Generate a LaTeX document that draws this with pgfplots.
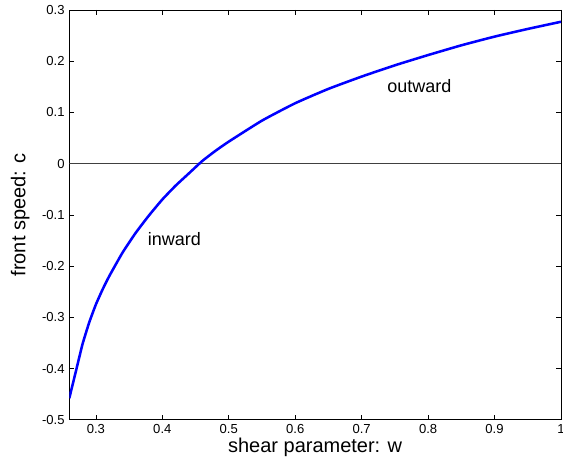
\documentclass[border=0pt]{standalone}
\usepackage{fontspec}
\setmainfont{Liberation Sans}
\usepackage{pgfplots}
\pgfplotsset{compat=1.18}
\begin{document}
\begin{tikzpicture}
\begin{axis}[
  scale only axis,
  width=369pt, height=307.5pt,
  xmin=0.26, xmax=1, ymin=-0.5, ymax=0.3,
  xtick={0.3,0.4,...,1.0}, ytick={-0.5,-0.4,...,0.3},
  tick align=inside, major tick length=3.5pt,
  tick style={black, line width=0.5pt},
  axis line style={black, line width=0.6pt},
  xticklabel style={font=\fontsize{9.8}{11}\selectfont},
  yticklabel style={font=\fontsize{9.8}{11}\selectfont},
  /pgf/number format/assume math mode=true,
  /pgf/number format/fixed,
  /pgf/number format/precision=1,
  xlabel={shear parameter: w}, ylabel={front speed: c},
  label style={font=\fontsize{15}{17}\selectfont},
  xlabel style={at={(axis description cs:0.5,-0.068)}, anchor=center},
  ylabel style={at={(axis description cs:-0.1,0.5)}, anchor=center},
]
\addplot[black!75, line width=0.6pt, forget plot] coordinates {(0.26,0) (1,0)};
\addplot[blue, line width=1.9pt, smooth, tension=0.3] coordinates {
(0.26,-0.458) (0.27,-0.405) (0.28,-0.352) (0.29,-0.310) (0.30,-0.275)
(0.31,-0.246) (0.32,-0.220) (0.34,-0.174) (0.36,-0.135) (0.38,-0.101)
(0.40,-0.070) (0.42,-0.043) (0.44,-0.019) (0.46,0.005) (0.48,0.025)
(0.50,0.043) (0.55,0.084) (0.60,0.118) (0.65,0.146) (0.70,0.170)
(0.75,0.192) (0.80,0.212) (0.85,0.231) (0.90,0.248) (0.95,0.263) (1.00,0.277)
};
\node[font=\fontsize{13.5}{15}\selectfont] at (axis cs:0.418,-0.147) {inward};
\node[font=\fontsize{13.5}{15}\selectfont] at (axis cs:0.787,0.152) {outward};
\end{axis}
\pgfresetboundingbox
\path (current axis.south west) ++(-52pt,-33.75pt) coordinate (bbA);
\path (current axis.north east) ++(1.5pt,7.5pt) coordinate (bbB);
\useasboundingbox (bbA) rectangle (bbB);
\end{tikzpicture}
\end{document}
